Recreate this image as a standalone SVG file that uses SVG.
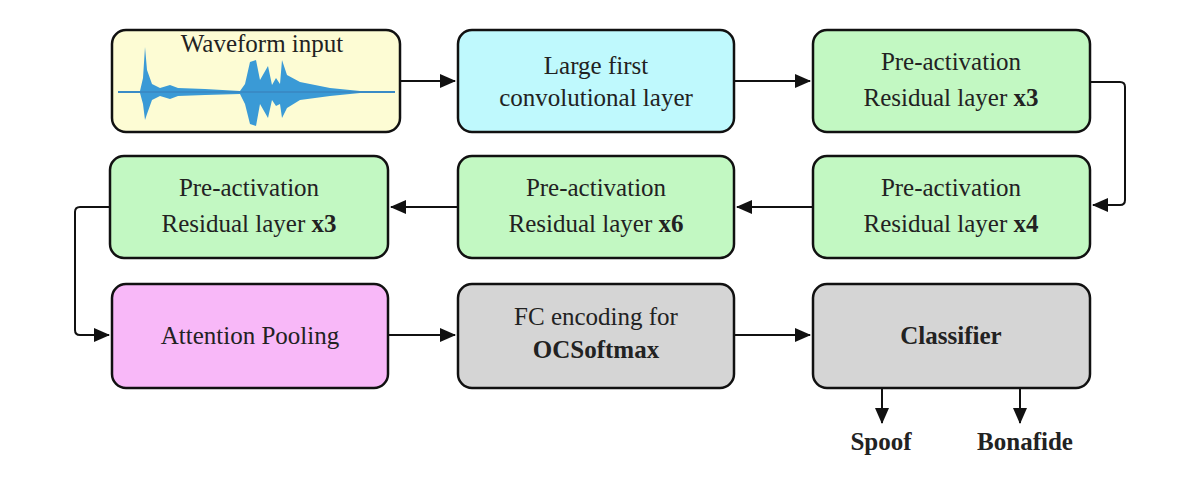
<svg xmlns="http://www.w3.org/2000/svg" width="1200" height="486" viewBox="0 0 1200 486">
<style>
.b{stroke:#111;stroke-width:2.5}
.t{font-family:"Liberation Serif",serif;font-size:25px;fill:#222;text-anchor:middle}
.c{fill:none;stroke:#111;stroke-width:2}
</style>
<defs><marker id="a2" markerWidth="16" markerHeight="14" refX="15" refY="7" orient="auto" markerUnits="userSpaceOnUse"><path d="M0,0L16,7L0,14z" fill="#111"/></marker></defs>
<rect width="1200" height="486" fill="#fff"/>
<g id="n1"><rect class="b" x="112" y="30" width="288" height="102" rx="14" fill="#fdfcd4"/>
<path fill="#3a9ad6" d="M118,91 L140,91 L143,78 L145,47 L147,70 L152,84 L160,88 L170,85 L178,88 L205,89 L240,91 L245,84 L250,62 L256,60 L260,80 L268,66 L272,85 L276,78 L280,84 L282,60 L287,75 L300,82 L330,88 L360,91 L395,91 L395,93 L360,93 L330,96 L300,100 L287,108 L282,118 L280,104 L276,106 L272,100 L268,118 L260,104 L256,126 L250,124 L245,104 L240,94 L205,95 L178,96 L170,99 L160,96 L152,100 L147,114 L145,120 L143,104 L140,93 L118,93z"/>
<line x1="118" y1="92" x2="395" y2="92" stroke="#3a86c0" stroke-width="1.5"/>
<text class="t" x="262" y="52" font-size="24">Waveform input</text></g>
<g id="n2"><rect class="b" x="458" y="30" width="276" height="102" rx="14" fill="#bff9fd"/><text class="t" x="596" y="74" font-size="28">Large first</text><text class="t" x="596" y="106" font-size="28">convolutional layer</text></g>
<g id="n3"><rect class="b" x="813" y="30" width="277" height="102" rx="14" fill="#c2f8c2"/><text class="t" x="951" y="70">Pre-activation</text><text class="t" x="951" y="106">Residual layer <tspan font-weight="bold">x3</tspan></text></g>
<g id="n4"><rect class="b" x="813" y="156" width="277" height="102" rx="14" fill="#c2f8c2"/><text class="t" x="951" y="196">Pre-activation</text><text class="t" x="951" y="232">Residual layer <tspan font-weight="bold">x4</tspan></text></g>
<g id="n5"><rect class="b" x="458" y="156" width="276" height="102" rx="14" fill="#c2f8c2"/><text class="t" x="596" y="196">Pre-activation</text><text class="t" x="596" y="232">Residual layer <tspan font-weight="bold">x6</tspan></text></g>
<g id="n6"><rect class="b" x="110" y="156" width="278" height="102" rx="14" fill="#c2f8c2"/><text class="t" x="249" y="196">Pre-activation</text><text class="t" x="249" y="232">Residual layer <tspan font-weight="bold">x3</tspan></text></g>
<g id="n7"><rect class="b" x="112" y="284" width="276" height="104" rx="14" fill="#f8b8f8"/><text class="t" x="250" y="344">Attention Pooling</text></g>
<g id="n8"><rect class="b" x="458" y="284" width="276" height="104" rx="14" fill="#d5d5d5"/><text class="t" x="596" y="325">FC encoding for</text><text class="t" x="596" y="358" font-weight="bold">OCSoftmax</text></g>
<g id="n9"><rect class="b" x="813" y="284" width="277" height="104" rx="14" fill="#d5d5d5"/><text class="t" x="951" y="344" font-weight="bold">Classifier</text></g>
<text class="t" x="881" y="450" font-weight="bold" font-size="26">Spoof</text>
<text class="t" x="1025" y="450" font-weight="bold" font-size="26">Bonafide</text>
<g id="connectors">
<path class="c" d="M400,81H455" marker-end="url(#a2)"/>
<path class="c" d="M734,81H810" marker-end="url(#a2)"/>
<path class="c" d="M1090,82H1120Q1125,82 1125,87V200Q1125,205 1120,205H1093" marker-end="url(#a2)"/>
<path class="c" d="M813,207H737" marker-end="url(#a2)"/>
<path class="c" d="M458,207H391" marker-end="url(#a2)"/>
<path class="c" d="M110,207H80Q75,207 75,212V330Q75,335 80,335H109" marker-end="url(#a2)"/>
<path class="c" d="M388,335H455" marker-end="url(#a2)"/>
<path class="c" d="M734,335H810" marker-end="url(#a2)"/>
<path class="c" d="M882,388V423" marker-end="url(#a2)"/>
<path class="c" d="M1020,388V423" marker-end="url(#a2)"/>
</g>
</svg>
